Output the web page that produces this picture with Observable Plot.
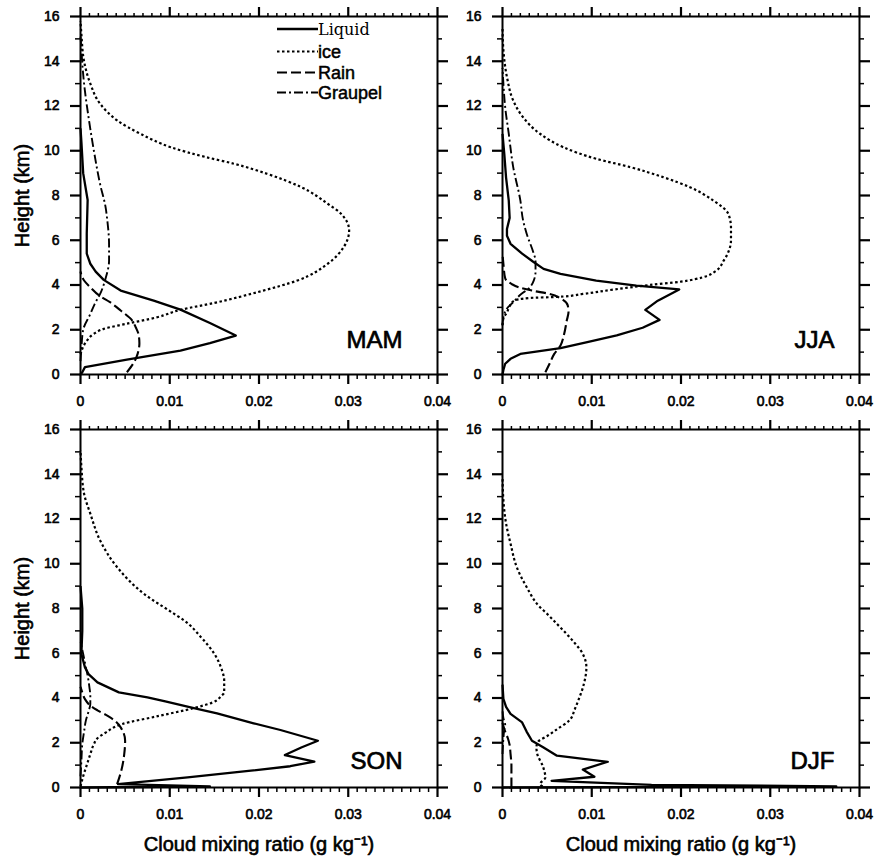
<!DOCTYPE html>
<html>
<head>
<meta charset="utf-8">
<script src="https://cdn.jsdelivr.net/npm/d3@7"></script>
<script src="https://cdn.jsdelivr.net/npm/@observablehq/plot@0.6"></script>
<style>
  html, body { margin: 0; padding: 0; background: #fff; }
  #fig { position: relative; width: 876px; height: 857px; overflow: hidden; background: #fff; }
  #fig > svg { position: absolute; }
</style>
</head>
<body>
<div id="fig"></div>
<script>
// ---------------- DATA (height km, mixing ratio g/kg) ----------------
const seasons = ["MAM", "JJA", "SON", "DJF"];
const seriesNames = ["Liquid", "ice", "Rain", "Graupel"];
const xTicks = [0, 0.01, 0.02, 0.03, 0.04];
const xTickLabels = ["0", "0.01", "0.02", "0.03", "0.04"];
const yTicks = [0, 2, 4, 6, 8, 10, 12, 14, 16];
const yTickLabels = ["0", "2", "4", "6", "8", "10", "12", "14", "16"];
const xTitle = "Cloud mixing ratio (g kg\u207B\u00B9)";
const yTitle = "Height (km)";

const MAM_liquid = [[0,0],[0.1,0.0002],[0.33,0.0005],[0.66,0.0052],[1.07,0.0112],[1.4,0.0145],[1.74,0.0174],[2.3,0.0145],[2.9,0.0112],[3.3,0.0082],[3.75,0.0045],[4.23,0.0026],[4.6,0.0017],[4.95,0.0011],[5.4,0.0007],[6.3,0.0007],[7.8,0.0008],[9,0.0003],[10.4,0.0001],[11,0]];
const MAM_ice = [[0.9,0],[1.44,0.0006],[1.82,0.0015],[2.04,0.0026],[2.27,0.0052],[2.56,0.0086],[2.89,0.0112],[3.2,0.015],[3.72,0.0202],[4.2,0.0243],[4.95,0.0277],[5.7,0.0295],[6.44,0.0301],[7.18,0.0292],[7.63,0.0277],[8.38,0.0247],[8.97,0.0209],[9.42,0.0172],[9.72,0.014],[10.16,0.0101],[10.76,0.0067],[11.36,0.0041],[12.1,0.0022],[13,0.0011],[14,0.0004],[15.2,0.0001],[15.8,0]];
const MAM_rain = [[0.1,0.0052],[0.55,0.006],[0.92,0.0064],[1.4,0.0066],[1.8,0.0065],[2.1,0.0062],[2.41,0.0058],[2.86,0.0045],[3.23,0.0033],[3.5,0.0022],[3.9,0.0011],[4.2,0.0004],[4.45,0.0001],[4.6,0]];
const MAM_graupel = [[0.6,0],[1.2,0.0001],[2.0,0.0003],[2.7,0.0011],[3.16,0.0016],[3.6,0.0022],[4.28,0.0028],[5.1,0.0032],[5.8,0.0032],[6.9,0.003],[7.5,0.0028],[8.5,0.0022],[10,0.0015],[11.5,0.0009],[13,0.0004],[14.5,0.0001],[15.2,0]];

const JJA_liquid = [[0,0],[0.2,0.0001],[0.48,0.0003],[0.7,0.0009],[0.92,0.002],[1.18,0.0065],[1.45,0.0095],[1.75,0.0128],[2.09,0.0157],[2.44,0.0176],[2.89,0.016],[3.3,0.0174],[3.8,0.0198],[3.97,0.015],[4.2,0.0105],[4.5,0.0065],[4.72,0.0046],[5.05,0.0034],[5.4,0.0022],[5.84,0.0009],[6.2,0.0005],[6.5,0.0005],[7.0,0.0008],[7.78,0.0007],[8.8,0.0004],[9.86,0.0002],[10.75,0]];
const JJA_ice = [[2.2,0],[2.5,0.0001],[2.78,0.0005],[3.05,0.0008],[3.3,0.0013],[3.42,0.003],[3.47,0.0062],[3.6,0.009],[3.8,0.0125],[4.0,0.0165],[4.15,0.02],[4.35,0.0225],[4.6,0.0238],[5.1,0.0248],[6.0,0.0256],[6.58,0.0256],[7.18,0.0253],[7.78,0.0236],[8.37,0.021],[8.82,0.018],[9.27,0.0143],[9.64,0.0105],[10.16,0.0068],[10.76,0.0042],[11.5,0.0023],[12.25,0.0012],[13.29,0.0005],[14.5,0.0001],[15.5,0]];
const JJA_rain = [[0.1,0.0048],[0.5,0.0053],[0.92,0.0058],[1.3,0.0065],[1.8,0.0069],[2.41,0.0072],[2.8,0.0074],[3.1,0.0073],[3.38,0.0066],[3.6,0.0053],[3.75,0.0033],[3.9,0.0018],[4.05,0.001],[4.3,0.0003],[4.95,0.0001],[5.4,0]];
const JJA_graupel = [[2.2,0],[2.56,0.0001],[3.0,0.0006],[3.23,0.0012],[3.6,0.0021],[3.83,0.0029],[4.2,0.0035],[4.6,0.0037],[5.1,0.0037],[5.4,0.0035],[6.3,0.0027],[6.9,0.0023],[7.78,0.002],[9.27,0.0012],[10.76,0.0007],[11.95,0.0003],[13,0.0001],[13.7,0]];

const SON_liquid = [[0,0],[0.05,0.0145],[0.15,0.0042],[0.45,0.012],[0.75,0.0191],[0.95,0.0235],[1.16,0.0262],[1.45,0.0229],[1.8,0.0248],[2.09,0.0266],[2.57,0.0224],[2.87,0.0194],[3.31,0.0153],[3.55,0.0127],[3.85,0.0095],[4.03,0.0075],[4.25,0.0043],[4.7,0.0019],[5.07,0.0009],[5.37,0.0005],[5.97,0.0001],[7,0.0002],[8,0.0002],[9,0]];
const SON_ice = [[0.05,0],[0.5,0.0003],[1.0,0.0007],[1.49,0.0011],[1.94,0.0015],[2.2,0.0019],[2.45,0.0028],[2.84,0.0047],[3.2,0.0088],[3.55,0.0127],[3.8,0.0148],[4.1,0.0158],[4.25,0.0161],[4.78,0.0161],[5.3,0.0158],[5.97,0.015],[6.72,0.0135],[7.47,0.0116],[7.76,0.0105],[8.66,0.0071],[9.85,0.0041],[11.04,0.0022],[12.24,0.0011],[13.13,0.0004],[14.33,0.0001],[15.07,0]];
const SON_rain = [[0.15,0.0041],[0.8,0.0046],[1.49,0.0049],[2.09,0.005],[2.69,0.0045],[3.0,0.0038],[3.21,0.003],[3.45,0.0019],[3.66,0.0011],[3.95,0.0005],[4.25,0.0002],[4.5,0]];
const SON_graupel = [[0.5,0],[1.2,0.0001],[1.94,0.0002],[2.5,0.0004],[2.99,0.0006],[3.4,0.0009],[3.73,0.0011],[4.1,0.0011],[4.48,0.001],[5.0,0.0008],[5.37,0.0006],[5.97,0.0003],[6.5,0]];

const DJF_liquid = [[0,0],[0.05,0.0374],[0.12,0.0167],[0.3,0.0055],[0.48,0.0103],[0.8,0.009],[1.15,0.0118],[1.42,0.0061],[1.79,0.0046],[2.09,0.0033],[2.5,0.0027],[2.91,0.0022],[3.29,0.0009],[3.6,0.0004],[3.96,0.0001],[4.6,0]];
const DJF_ice = [[0.05,0.0045],[0.15,0.0042],[0.45,0.0048],[0.97,0.0045],[1.49,0.0039],[1.79,0.0038],[2.05,0.004],[2.3,0.005],[2.6,0.0061],[3.0,0.0075],[3.5,0.0081],[3.9,0.0085],[4.6,0.0091],[5.37,0.0094],[5.97,0.009],[6.5,0.008],[6.9,0.0071],[7.31,0.0061],[7.8,0.0049],[8.06,0.0042],[8.96,0.0027],[9.85,0.0016],[10.9,0.0009],[11.8,0.0004],[12.84,0.0001],[13.9,0]];
const DJF_rain = [[0,0.001],[0.5,0.001],[1.0,0.001],[1.5,0.0009],[1.9,0.0008],[2.2,0.0006],[2.5,0.0003],[2.75,0.0001],[2.9,0]];
const DJF_graupel = [[1.5,0],[2.2,0.0001],[2.6,0.0002],[2.8,0.0003],[3.1,0.0001],[3.5,0]];

const profiles = {
  MAM: [MAM_liquid, MAM_ice, MAM_rain, MAM_graupel],
  JJA: [JJA_liquid, JJA_ice, JJA_rain, JJA_graupel],
  SON: [SON_liquid, SON_ice, SON_rain, SON_graupel],
  DJF: [DJF_liquid, DJF_ice, DJF_rain, DJF_graupel]
};

// ---------------- STYLES ----------------
const lineStyles = [
  {dash: null, width: 2.3, curve: "linear"},
  {dash: "2.5,2.5", width: 2.2, curve: "monotone-y"},
  {dash: "10,4", width: 2.1, curve: "monotone-y"},
  {dash: "9,3,2,3", width: 1.9, curve: "monotone-y"}
];
const sans = "'Liberation Sans', Arial, Helvetica, sans-serif";
const textHeavy = {textStroke: "black", textStrokeWidth: 0.6};
const xMinor = d3.range(0, 41).map(i => i / 1000).filter(v => Math.round(v * 1000) % 10 !== 0);
const yMinor = d3.range(1, 16, 2);

const panels = [
  {season: "MAM", left: 0,   top: 0,   ml: 80, mr: 23, mb: 56, yTitle: true,  xTitle: false, sdx: -35, sdy: -34},
  {season: "JJA", left: 416, top: 0,   ml: 86, mr: 17, mb: 56, yTitle: false, xTitle: false, sdx: -25, sdy: -34},
  {season: "SON", left: 0,   top: 413, ml: 80, mr: 23, mb: 70, yTitle: true,  xTitle: true,  sdx: -35, sdy: -26},
  {season: "DJF", left: 416, top: 413, ml: 86, mr: 17, mb: 70, yTitle: false, xTitle: true,  sdx: -25, sdy: -26}
];

const fig = document.getElementById("fig");

for (const p of panels) {
  const marks = [
    Plot.frame({stroke: "black", strokeWidth: 2}),
    Plot.axisX(xTicks, {anchor: "bottom", tickSize: 10, tickPadding: 12, strokeWidth: 2.2, fontSize: 14,
      tickFormat: d => xTickLabels[xTicks.indexOf(d)], label: null, ...textHeavy}),
    Plot.axisX(xMinor, {anchor: "bottom", tickSize: 5, strokeWidth: 1.5, fill: "none", label: null}),
    Plot.axisX(xTicks, {anchor: "top", tickSize: 10, strokeWidth: 2.2, fill: "none", label: null}),
    Plot.axisX(xMinor, {anchor: "top", tickSize: 4, strokeWidth: 1.5, fill: "none", label: null}),
    Plot.axisY(yTicks, {anchor: "left", tickSize: 10, tickPadding: 11, strokeWidth: 2.2, fontSize: 14,
      tickFormat: d => yTickLabels[yTicks.indexOf(d)], label: null, ...textHeavy}),
    Plot.axisY(yMinor, {anchor: "left", tickSize: 5, strokeWidth: 1.5, fill: "none", label: null}),
    Plot.axisY(yTicks, {anchor: "right", tickSize: 10, strokeWidth: 2.2, fill: "none", label: null}),
    Plot.axisY(yMinor, {anchor: "right", tickSize: 4, strokeWidth: 1.5, fill: "none", label: null})
  ];
  profiles[p.season].forEach((data, i) => {
    const st = lineStyles[i];
    marks.push(Plot.line(data, {
      x: d => d[1], y: d => d[0], stroke: "black", strokeWidth: st.width,
      strokeDasharray: st.dash, curve: st.curve, strokeLinejoin: "round", strokeLinecap: "butt"
    }));
  });
  marks.push(Plot.text([p.season], {
    frameAnchor: "bottom-right", dx: p.sdx, dy: p.sdy, textAnchor: "end", lineAnchor: "middle",
    fontSize: 24, fill: "black", fontFamily: sans, stroke: "black", strokeWidth: 0.7
  }));
  if (p.yTitle) {
    marks.push(Plot.text([yTitle], {
      frameAnchor: "left", dx: -58, rotate: -90, textAnchor: "middle", lineAnchor: "middle",
      fontSize: 20, fill: "black", fontFamily: sans, stroke: "black", strokeWidth: 0.6
    }));
  }
  if (p.xTitle) {
    marks.push(Plot.text([xTitle], {
      frameAnchor: "bottom", dy: 57, textAnchor: "middle", lineAnchor: "middle",
      fontSize: 20, fill: "black", fontFamily: sans, stroke: "black", strokeWidth: 0.6
    }));
  }
  const chart = Plot.plot({
    width: p.ml + 357 + p.mr,
    height: 16 + 358 + p.mb,
    marginLeft: p.ml, marginRight: p.mr, marginTop: 16, marginBottom: p.mb,
    style: {background: "transparent", overflow: "visible", fontFamily: sans, color: "black"},
    x: {domain: [0, 0.04], label: null},
    y: {domain: [0, 16], label: null},
    marks
  });
  chart.style.left = p.left + "px";
  chart.style.top = p.top + "px";
  fig.appendChild(chart);
}

// ---------------- LEGEND (inside MAM panel) ----------------
const legendRows = [29, 51.5, 72.5, 92.5];
const legendFonts = [
  {family: "'DejaVu Serif', 'Liberation Serif', serif", size: 16, stroke: 0},
  {family: sans, size: 18, stroke: 0.5},
  {family: sans, size: 18, stroke: 0.5},
  {family: sans, size: 18, stroke: 0.5}
];
const leg = d3.select(fig).append("svg")
  .attr("width", 200).attr("height", 110)
  .style("left", "260px").style("top", "0px").style("overflow", "visible");
seriesNames.forEach((name, i) => {
  const st = lineStyles[i];
  const y = legendRows[i];
  leg.append("line")
    .attr("x1", 277 - 260).attr("x2", 318 - 260).attr("y1", y).attr("y2", y)
    .attr("stroke", "black").attr("stroke-width", st.width)
    .attr("stroke-dasharray", st.dash);
  const t = leg.append("text")
    .attr("x", 318 - 260).attr("y", y).attr("dy", "0.35em")
    .attr("font-family", legendFonts[i].family).attr("font-size", legendFonts[i].size)
    .attr("fill", "black").text(name);
  if (legendFonts[i].stroke) t.attr("stroke", "black").attr("stroke-width", legendFonts[i].stroke);
});
</script>
</body>
</html>
